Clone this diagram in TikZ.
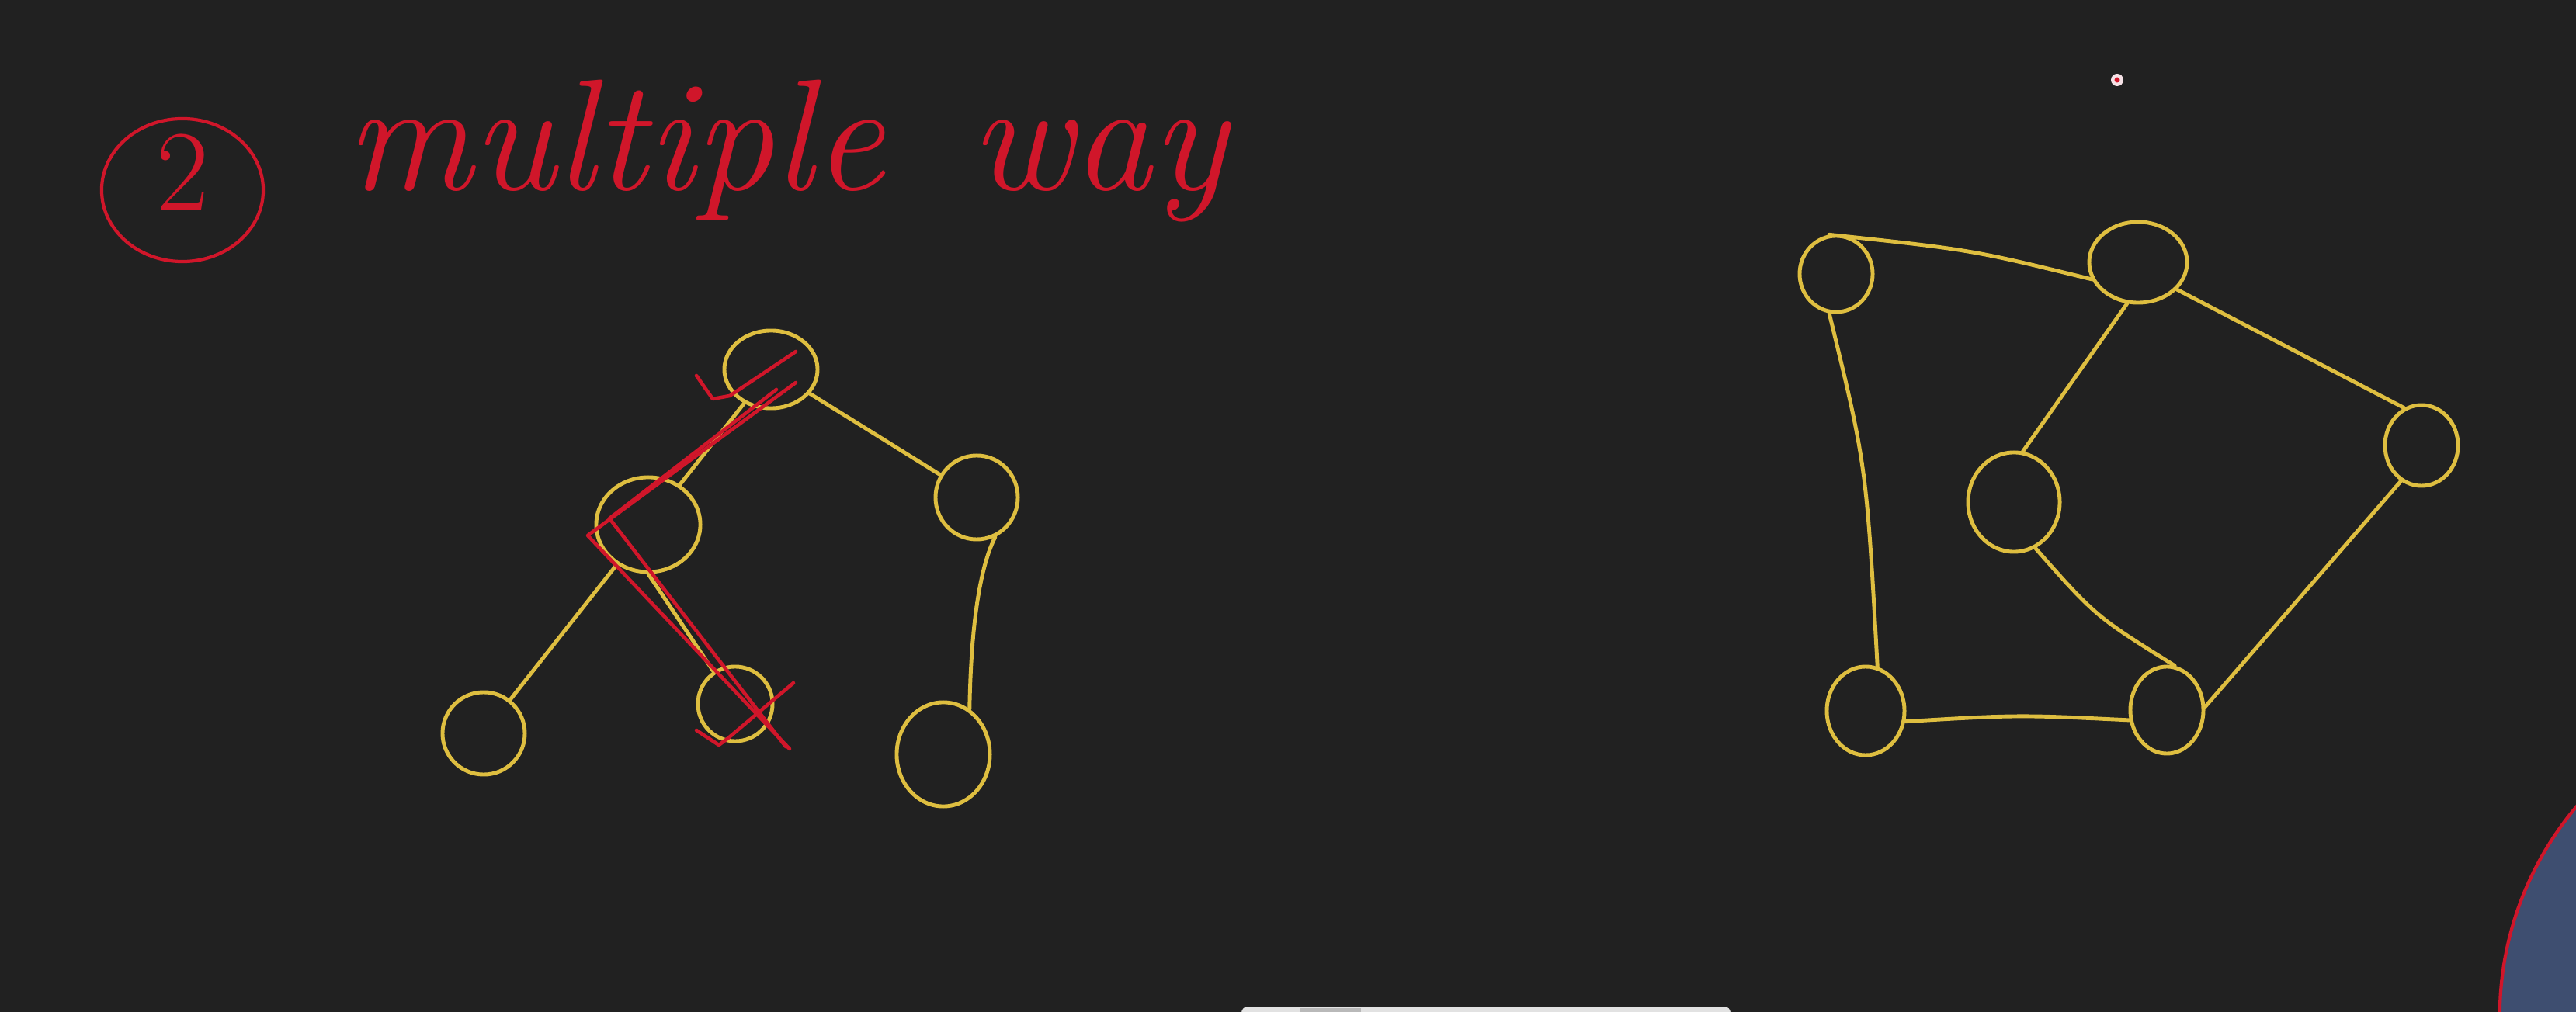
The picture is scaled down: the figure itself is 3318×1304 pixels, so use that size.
\documentclass[tikz,border=0pt]{standalone}
\usetikzlibrary{shapes.geometric}
\definecolor{bg}{RGB}{33,33,33}
\definecolor{ylw}{RGB}{222,190,64}
\definecolor{pen}{RGB}{208,22,42}
\definecolor{avatar}{RGB}{62,78,112}
\definecolor{barcol}{RGB}{226,226,226}
\definecolor{dotwhite}{RGB}{245,225,230}
\begin{document}
\begin{tikzpicture}[x=0.01cm,y=-0.01cm,
  vtx/.style={ellipse,draw=ylw,line width=1.4pt,inner sep=0pt},
  edge/.style={draw=ylw,line width=1.4pt,line cap=round},
  redpen/.style={draw=pen,line width=1.3pt,line cap=round,line join=round}]
\useasboundingbox (0,0) rectangle (3318,1304);
\fill[bg] (0,0) rectangle (3318,1304);
\clip (0,0) rectangle (3318,1304);

% title
\node[ellipse,draw=pen,line width=1.2pt,inner sep=0pt,minimum width=2.08cm,minimum height=1.84cm] (ring) at (235,245) {};
\node[text=pen,inner sep=0pt,font=\fontsize{42}{48}\selectfont] (two) at (235,222) {2};
\node[text=pen,anchor=base west,inner sep=0pt,font=\fontsize{58}{64}\selectfont\itshape] (title) at (445,245) {multiple\hskip 1.1cm way};

% left tree
\node[vtx,minimum width=1.2cm,minimum height=1.0cm] (A) at (993,476) {};
\node[vtx,minimum width=1.34cm,minimum height=1.22cm] (B) at (835,676) {};
\node[vtx,minimum width=1.06cm,minimum height=1.08cm] (C) at (1258,641) {};
\node[vtx,minimum width=1.06cm,minimum height=1.06cm] (D) at (623,945) {};
\node[vtx,minimum width=0.96cm,minimum height=0.96cm] (E) at (947,907) {};
\node[vtx,minimum width=1.2cm,minimum height=1.34cm] (F) at (1215,972) {};

\draw[edge] (A) -- (B);
\draw[edge] (A) -- (C);
\draw[edge] (B) -- (D);
\draw[edge] (B.south) -- (E);
\draw[edge] (C.-65) .. controls (1255,745) and (1250,850) .. (F.60);

% red marks
\draw[redpen] (897,484) -- (918,514) -- (940,510) -- (1025,453);
\draw[redpen] (1025,493) -- (757,690) -- (1017,965);
\draw[redpen] (1000,502) -- (785,668) -- (1012,962);
\draw[redpen] (897,941) -- (926,960) -- (938,951) -- (1022,880);

% right graph
\node[vtx,minimum width=0.94cm,minimum height=0.98cm] (P) at (2365,353) {};
\node[vtx,minimum width=1.26cm,minimum height=1.04cm] (Q) at (2754,338) {};
\node[vtx,minimum width=0.94cm,minimum height=1.04cm] (R) at (3119,574) {};
\node[vtx,minimum width=1.18cm,minimum height=1.28cm] (M) at (2594,647) {};
\node[vtx,minimum width=1.0cm,minimum height=1.14cm] (S) at (2403,916) {};
\node[vtx,minimum width=0.94cm,minimum height=1.12cm] (T) at (2791,915) {};

\draw[edge] (P.100) .. controls (2540,322) .. (Q.200);
\draw[edge] (P.-100) .. controls (2404,600) .. (S.75);
\draw[edge] (Q.-105) -- (M.80);
\draw[edge] (Q.-35) -- (R.115);
\draw[edge] (M.-65) .. controls (2699,794) .. (T.80);
\draw[edge] (R.-120) -- (T.5);
\draw[edge] (S.-15) .. controls (2600,921) .. (T.-165);

% pointer dot
\fill[dotwhite] (2727,103) circle (0.08cm);
\fill[pen] (2727,103) circle (0.035cm);

% bottom bar
\fill[barcol, rounded corners=0.08cm] (1599,1297) rectangle (2229,1330);
\fill[black!18!barcol] (1675,1299) rectangle (1753,1304);

% avatar
\fill[avatar, draw=pen, line width=1.2pt] (3640,1310) circle (4.2cm);
\end{tikzpicture}
\end{document}
